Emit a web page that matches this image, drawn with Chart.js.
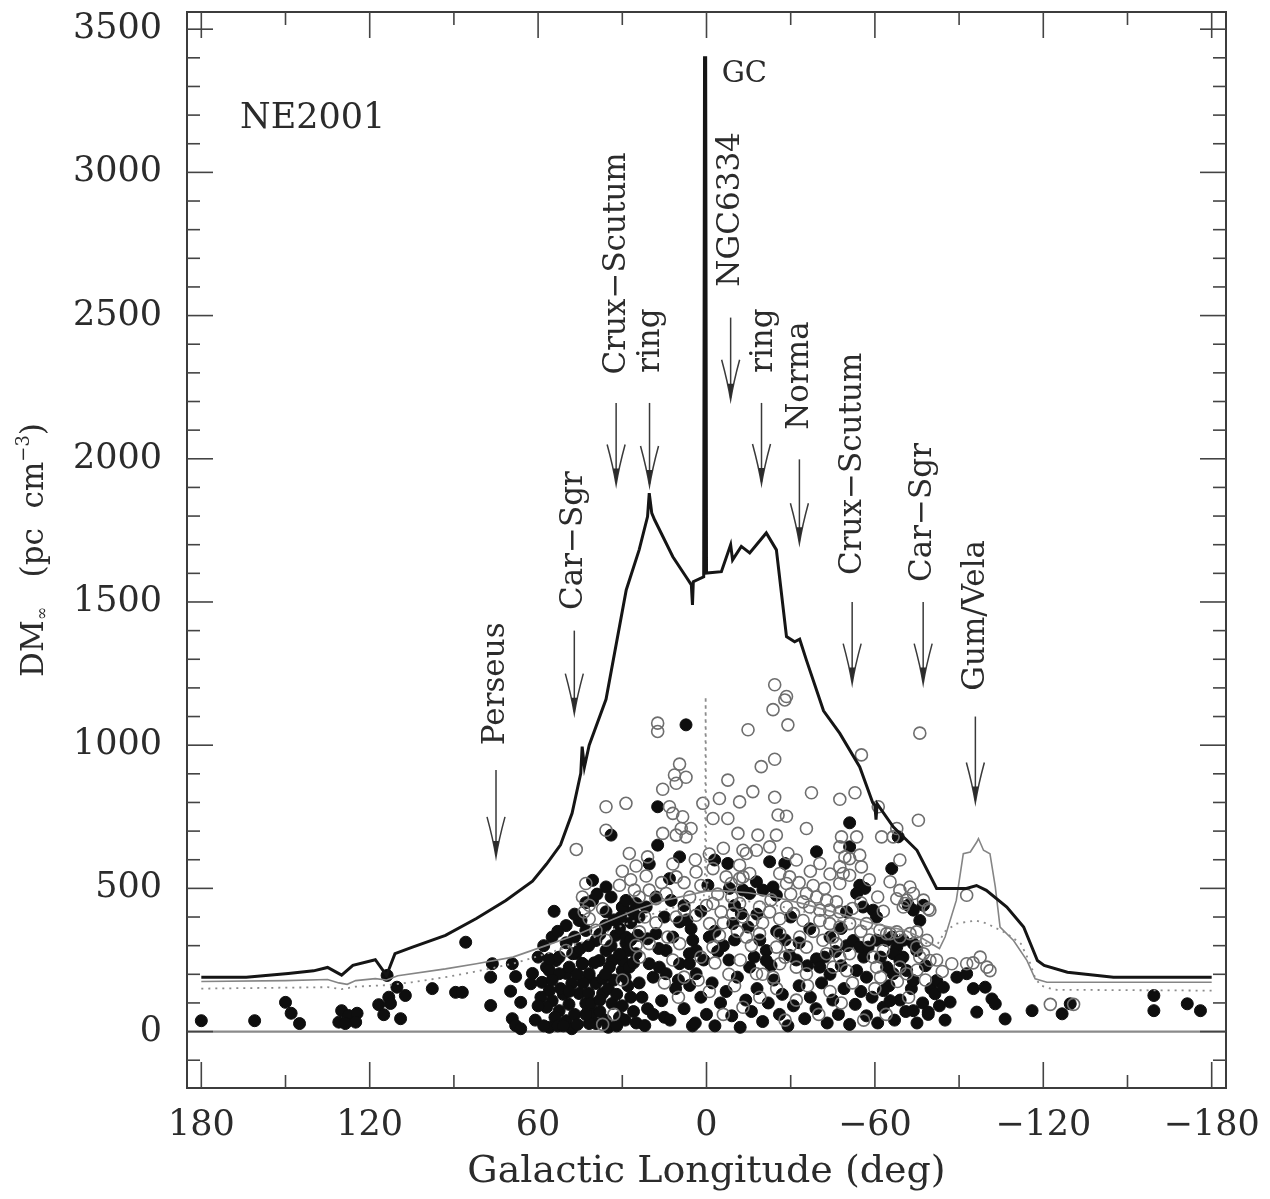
<!DOCTYPE html>
<html><head><meta charset="utf-8">
<script src="https://cdn.jsdelivr.net/npm/chart.js@4.4.1/dist/chart.umd.min.js"></script>
<style>html,body{margin:0;padding:0;background:#fff;}#wrap{width:1270px;height:1199px;}</style>
</head><body><div id="wrap"><canvas id="c" width="1270" height="1199"></canvas></div>
<script>
// ---------- DATA ----------
const xTickValues = [180, 120, 60, 0, -60, -120, -180];
const xTickLabels = ['180', '120', '60', '0', '\u221260', '\u2212120', '\u2212180'];
const yTickValues = [0, 500, 1000, 1500, 2000, 2500, 3000, 3500];
const yTickLabels = ['0', '500', '1000', '1500', '2000', '2500', '3000', '3500'];

// NE2001 DM_inf at b=0 (thick black line) [longitude, DM]
const neCurve = [[180,190],[164,190],[149,203],[140,212],[135,224],[130,197],[126,231],[118,251],[114,196],[111,272],[105,294],[93,336],[82,395],[71.5,458],[62,525],[57,585],[52,652],[47.9,762],[44.8,902],[44.3,995],[43.5,924],[41.8,1000],[35.8,1160],[28.6,1542],[24,1682],[21,1798],[20.4,1880],[19.5,1810],[18.5,1787],[12,1658],[7.3,1588],[5.4,1560],[5.0,1490],[4.7,1571],[1.0,1588],[0.7,3400],[0.3,3400],[0.0,1601],[-5.3,1606],[-8.6,1700],[-9.3,1647],[-12.4,1694],[-15.4,1671],[-21.3,1741],[-24.9,1682],[-28.5,1379],[-31.4,1361],[-33.2,1370],[-35.6,1297],[-41.7,1120],[-47.5,1041],[-54.6,924],[-59.2,800],[-60,790],[-60.4,740],[-60.8,795],[-66.6,714],[-75,633],[-82,500],[-85.5,500],[-92.6,500],[-96.2,510],[-99.7,493],[-107,435],[-113,365],[-117.9,248],[-120.3,231],[-128.6,207],[-145,190],[-180,190]];
// second model curve (thin grey line)
const greyCurve = [[180,175],[150,178],[135,182],[131,170],[128,165],[125,178],[118,185],[114,180],[110,195],[93,219],[82,237],[69,260],[57,301],[45.4,342],[35,385],[25,425],[15,458],[5,480],[0,490],[-5,492],[-15,485],[-25,468],[-35,445],[-45,418],[-59,378],[-71,353],[-77,325],[-83,290],[-85,330],[-89,458],[-91.5,621],[-94,627],[-96.3,662],[-96.9,674],[-98.7,633],[-101,621],[-102.9,505],[-104.6,365],[-109.4,318],[-114.2,248],[-117.1,184],[-121.3,172],[-180,172]];
// third model curve (dotted grey line)
const dottedCurve = [[180,150],[135,155],[130,148],[125,157],[114,162],[105,172],[93,190],[82,210],[69,237],[57,272],[45.4,307],[35,350],[25,390],[15,425],[5,450],[1,465],[0.5,560],[0.3,1170],[0.1,560],[-1,465],[-5,462],[-15,455],[-25,440],[-35,418],[-45,395],[-59,360],[-71,335],[-78,310],[-82,300],[-85,350],[-89,377],[-96,388],[-100,377],[-107,342],[-112,307],[-115.4,237],[-117,190],[-119,161],[-124,146],[-180,143]];

// pulsars with independent distances (filled)
const filledPulsars = [
[180,38],[161,38],[150,102],[148,64],[145,28],[130,73],[131,33],[127.5,56],[124.5,64],[125,33],[128.7,28],[113.8,196],[110.3,155],[107.3,126],[113.2,120],[116.8,94],[112.6,98],[115,59],[109,45],[97.7,150],[89.4,137],[87,137],[85.8,312],[76.3,237],[76.9,190],[76.9,91],[69.2,237],[68,192],[69.8,141],[62.6,167],[66.2,102],[69.2,45],[68,21],[66.2,10],[54.3,420],
[62,203],[58.6,172],[56,143],[55,108],[52.5,73],[50,38],[56,15],[48,10],[57,225],[53.7,248],[50,203],[48,168],[45.4,133],[43,98],[40.7,63],[39.4,28],[46.5,273],[44.3,238],[41.8,190],[39.4,168],[37,133],[33.6,98],[31,50],[41.8,28],[43,353],[39.4,318],[35.8,283],[33.6,248],[30,213],[28.7,308],[40.6,528],[35.8,505],[45.4,388],[30,435],
[44.7,388],[40.6,458],[35.8,418],[29.9,435],[28.7,458],[25.1,447],[21.5,435],[26.3,418],[30.5,400],[32.3,336],[28.7,330],[24.5,336],[21,324],[18,342],[28.1,283],[25.1,272],[14.4,283],[5.5,359],[4.9,319],[3.7,283],[12.6,458],[9.6,383],[6.1,272],[-9.4,377],[-7.6,587],[-2.9,599],[56,254],[52.5,260],[47.7,272],[44.2,237],[38.2,248],[34.6,225],[48.9,225],[56,213],[52.5,202],[41.8,202],[29.9,248],[27.5,225],[20.4,237],[16.8,225],[9.6,237],[6.1,237],[3.7,202],[14.4,202],[17.4,651],[20.4,585],[9.6,610],[13.2,534],
[59,120],[57,85],[54,50],[53,20],[51,130],[49,95],[47,60],[46,25],[44,170],[42,135],[41,100],[38,70],[36,40],[35,15],[37,185],[35,150],[33,180],[32,130],[30,90],[29,40],[28,160],[27,120],[26,70],[25,30],[58,300],[60,260],[55,330],[50,310],[47,330],[45,290],[42,300],[38,340],[36,370],[33,390],[31,360],[27,380],[24,400],[34,470],[39,480],[43,450],[47,410],[50,370],[53,350],
[61,40],[60,90],[58,20],[55,180],[52,150],[51,20],[49,140],[46,200],[43,60],[40,240],[38,110],[36,200],[34,300],[32,20],[31,270],[29,190],[27,320],[26,240],[24,170],[23,120],[21,80],[19,190],[17,290],[15,50],[12,330],[10,180],[7,390],[5,20],[1,250],[-1,330],[-4,280],[-8,250],[-10,320],[-17,260],[-19,320],[-23,230],[-28,320],[-32,250],[-36,230],[-42,260],[-44,200],[-48,230],[-50,300],[-56,260],[-62,260],[-66,330],[-70,260],[-78,230],[-80,150],[-83,90],[-85,40],
[22,21],[19,60],[16,108],[13,40],[11,150],[8,80],[6,161],[4,30],[2,120],[0,60],[-2,170],[-3,20],[-5,100],[-7,140],[-9,55],[-11,190],[-12,15],[-14,110],[-16,70],[-18,150],[-20,35],[-22,100],[-24,180],[-26,60],[-27,130],[-29,20],[-31,90],[-33,160],[-35,45],[-37,120],[-39,80],[-41,170],[-43,30],[-45,110],[-47,60],[-49,150],[-51,25],[-53,95],[-55,140],[-57,55],[-59,120],[-61,30],[-63,85],[-65,160],[-67,40],[-69,110],[-71,70],[-73,150],[-75,30],[-77,100],[-79,60],
[-39.2,628],[-51,645],[-22.5,593],[-27.9,587],[-17.8,523],[-20.1,494],[-23.7,505],[-24.9,476],[-54.6,511],[-56.4,500],[-53.5,482],[-55.8,435],[-59.4,424],[-60.6,400],[-49.9,418],[-66,569],[-77.3,441],[-76,388],[-73.7,424],[-71.9,441],[-13,494],[-15.4,482],[-12.4,412],[-14.8,365],[-36.8,359],[-52.3,318],[-54.6,295],[-57.6,295],[-60.6,319],[-67.8,295],[-70.1,319],[-73.7,307],[-74.9,283],[-21.3,283],[-21.3,248],[-15.4,225],[-29.6,266],[-39.2,254],[-40.4,225],[-53.5,213],[-64.2,225],[-66.5,202],[-57,190],
[7.3,1071],[17.4,785],[34,686],[-51,729],[-68.3,680],[-0.5,511],[-8.2,500],[-64.2,318],[-66.5,272],[-68.9,248],[-71.3,213],[-73.7,178],[-63,143],[-65.4,108],[-73.7,73],[-79,68],[-82,178],[-81.4,132],[-84.4,155],[-86.8,103],[-89.2,190],[-92.7,202],[-95.1,150],[-99.3,155],[-101.7,114],[-102.9,97],[-96.3,68],[-106.4,44],[-116,73],[-126.7,62],[-129.6,97],[-159.4,126],[-159.4,73],[-171.3,97],[-176,73],
[2,420],[8,440],[15,400],[18,470],[-3,350],[-6,300],[-10,440],[-18,410],[-25,350],[-30,400],[-33,310],[-44,330],[-46,280],[-48,360]
];
// pulsars without independent distances (open circles)
const openPulsars = [
[46.4,636],[35.8,785],[28.7,797],[17.4,1077],[17.4,1048],[-14.8,1054],[-24.3,1211],[-28.5,1170],[-27.9,1158],[-23.7,1124],[-29,1071],[-76,1042],[-55.2,966],[-19.5,925],[-24.3,951],[9.6,934],[11.4,896],[7.3,888],[10.8,867],[15.6,846],[-7.6,878],[1.3,797],[-4.6,814],[-11.8,802],[-16.5,838],[-24.3,818],[-37.4,834],[-47.5,811],[-52.9,834],[-75.5,738],[-61.2,785],[-25.5,756],[-28.5,752],[-35.6,709],[-24.9,686],[-18.3,686],[-11.2,692],[-2.3,744],[-7.6,744],[8.5,750],[9,709],[5.5,709],[10.8,686],[7.3,680],[15.6,692],[13.2,785],[12,762],[35.8,703],[-53.5,680],[-48.1,680],[-47.5,645],[-49.3,610],[-54.6,616],[-55.2,575],[-62.4,680],[-67.8,709],[-66.5,680],[-68.9,599],[-65.4,523],[-68.9,493],[-72.5,505],[-73.7,482],[-67.8,464],[-70.7,447],[-79,429],[-77.3,459],[-64.2,342],[-67.8,348],[-72.5,342],[-74.9,295],[-77.3,272],[-87.4,237],[-92.7,237],[-97.5,260],[-99.9,225],[-101,213],[-92.7,476],[-122.5,95],[-130.8,95],
[27.5,622],[25.1,578],[21,610],[21.5,543],[31,511],[43,517],[44.2,470],[41.8,441],[43.6,418],[37,429],[41.8,394],[39.4,354],[35.8,319],[23.9,348],[25.7,494],[20.4,494],[18,464],[14.4,482],[10.8,540],[3.7,557],[7.9,424],[3.7,406],[10.8,400],[13.8,330],[9.6,307],[25.1,301],[20.4,307],[23.9,260],[-2.3,447],[-5.2,418],[-1.1,377],[-4.6,336],[-2.3,295],[-11.8,447],[-9.4,412],[-13,400],[-8.8,517],[-13,540],[-2.3,569],[-13,633],[50,283],
[-29,622],[-40.4,587],[-32,599],[-51,604],[-47.5,575],[-51,546],[-47.5,517],[-48.7,552],[-71.3,459],[-70.1,435],[-79.6,424],[-14.2,622],[-17.8,633],[-22.5,645],[-11.8,581],[-15.4,552],[-11.8,534],[-26.1,552],[-29.6,540],[-28.5,517],[-35.6,482],[-39.2,470],[-42.8,458],[-46.3,453],[-34.4,453],[-36.8,435],[-40.4,424],[-43.9,424],[-47.5,418],[-28.5,435],[-31,412],[-26.1,394],[-22.5,418],[-18.9,435],[-16.5,388],[-34.4,388],[-40.4,388],[-43.9,377],[-47.5,365],[-51,377],[-57,377],[-61.8,354],[-65.4,342],[-68.9,330],[-74.9,348],[-78.5,319],[-26.1,342],[-33.2,330],[-41.5,319],[-46.3,307],[-18.9,342],[-14.2,330],[-24.9,295],[-35.6,295],[-42.8,272],[-47.5,260],[-51,272],[-59.4,260],[-63,283],[-76,260],[-79.6,248],[-26.1,237],[-32,225],[-45.1,225],[-49.9,213],[-60.6,225],[-68.9,225],[-71.3,202],[-17.8,202],[-23.7,190],[-35.6,202],
[15,170],[10,120],[3,180],[-1,140],[-6,60],[-10,160],[-13,85],[-19,120],[-25,150],[-28,40],[-32,110],[-36,160],[-40,60],[-44,140],[-48,100],[-52,170],[-56,40],[-60,150],[-64,60],[-68,175],[-72,120],[-78,180],[37,25],[30,180],[33,60],[-1,620],[4,600],[-6,640],
[30,560],[27,530],[24,470],[22,400],[18,380],[16,520],[12,585],[8,520],[6,470],[2,510],[0,440],[-4,480],[-7,540],[-9,470],[-6,380],[-11,350],[-16,300],[-20,380],[-23,460],[-30,480],[-33,520],[-37,560],[-38,510],[-42,500],[-44,550],[-55,450],[-58,530],[-61,470],[-63,420],[-58,320],[-55,350],[-52,430],[-45,330],[-38,350],[-30,300],[-28,260],[-20,200],[-12,250],[-8,200],[-3,240],[2,260],[8,190],[12,250],[-62,190],[-75,215],[-82,250],[-84,210],[-95,240]
];

// Annotations: label, longitude of text column, DM where text starts, arrow top DM, arrow tip DM
const armLabels = ['Perseus','Car\u2212Sgr','Crux\u2212Scutum','ring','NGC6334','ring','Norma','Crux\u2212Scutum','Car\u2212Sgr','Gum/Vela'];
const armTextLon = [75, 47.3, 31.8, 19.8, -8.8, -20.3, -33.4, -52.1, -77.1, -96.1];
const armTextDM  = [1000, 1472, 2294, 2300, 2601, 2300, 2101, 1594, 1570, 1190];
const armArrowLon = [75, 47.1, 32.2, 20.3, -8.6, -19.6, -33.1, -51.9, -77.2, -95.8];
const armArrowTop = [913, 1400, 2195, 2195, 2493, 2195, 1998, 1500, 1500, 1100];
const armArrowTip = [610, 1110, 1910, 1905, 2206, 1912, 1705, 1215, 1215, 800];

const toXY = a => a.map(p => ({x: p[0], y: p[1]}));
const SERIF = "'DejaVu Serif', 'Liberation Serif', serif";
const TXT = '#2b2b2b';

const frameTicks = {
  id: 'frameTicks',
  beforeDatasetsDraw(chart) {
    const {ctx, chartArea: a, scales: {y}} = chart;
    const y0 = y.getPixelForValue(0);
    ctx.save(); ctx.strokeStyle = '#8a8a8a'; ctx.lineWidth = 2.2;
    ctx.beginPath(); ctx.moveTo(a.left, y0); ctx.lineTo(a.right, y0); ctx.stroke(); ctx.restore();
  },
  afterDatasetsDraw(chart) {
    const {ctx, chartArea: a, scales: {x, y}} = chart;
    ctx.save();
    ctx.strokeStyle = '#3c3c3c'; ctx.lineWidth = 2;
    ctx.strokeRect(a.left, a.top, a.right - a.left, a.bottom - a.top);
    ctx.lineWidth = 1.6; ctx.strokeStyle = '#444';
    const seg = (x1, y1, x2, y2) => { ctx.beginPath(); ctx.moveTo(x1, y1); ctx.lineTo(x2, y2); ctx.stroke(); };
    for (let v = -180; v <= 180; v += 30) {
      const px = x.getPixelForValue(v), L = (v % 60 === 0) ? 26 : 13;
      seg(px, a.bottom, px, a.bottom - L); seg(px, a.top, px, a.top + L);
    }
    for (let v = -100; v <= 3500; v += 100) {
      const py = y.getPixelForValue(v), L = (v % 500 === 0) ? 26 : 13;
      seg(a.left, py, a.left + L, py); seg(a.right, py, a.right - L, py);
    }
    // annotations
    ctx.fillStyle = TXT; ctx.strokeStyle = '#3a3a3a';
    ctx.font = '31px ' + SERIF;
    armLabels.forEach((t, i) => {
      const tx = x.getPixelForValue(armTextLon[i]), ty = y.getPixelForValue(armTextDM[i]);
      ctx.save(); ctx.translate(tx, ty); ctx.rotate(-Math.PI / 2);
      ctx.textAlign = 'left'; ctx.textBaseline = 'middle'; ctx.fillText(t, 0, 0); ctx.restore();
      const ax = x.getPixelForValue(armArrowLon[i]);
      const top = y.getPixelForValue(armArrowTop[i]), tip = y.getPixelForValue(armArrowTip[i]);
      ctx.lineWidth = 1.5;
      seg(ax, top, ax, tip - 2);
      ctx.beginPath(); ctx.moveTo(ax - 9, tip - 40); ctx.quadraticCurveTo(ax - 3, tip - 18, ax, tip);
      ctx.quadraticCurveTo(ax + 3, tip - 18, ax + 9, tip - 40); ctx.stroke();
      ctx.beginPath(); ctx.moveTo(ax - 3, tip - 16); ctx.lineTo(ax, tip); ctx.lineTo(ax + 3, tip - 16); ctx.closePath(); ctx.fill();
    });
    ctx.font = '35px ' + SERIF; ctx.textAlign = 'left'; ctx.textBaseline = 'middle';
    ctx.fillText('NE2001', x.getPixelForValue(166.2), y.getPixelForValue(3185));
    ctx.font = '29px ' + SERIF;
    ctx.fillText('GC', x.getPixelForValue(-5.4), y.getPixelForValue(3343));
    // y axis title with sub/superscripts
    ctx.save(); ctx.translate(35, (a.top + a.bottom) / 2); ctx.rotate(-Math.PI / 2);
    const parts = [['DM', 31, 0], ['\u221E', 16, 8], ['   (pc  cm', 31, 0], ['\u22123', 18, -11], [')', 31, 0]];
    let w = 0; parts.forEach(p => { ctx.font = p[1] + 'px ' + SERIF; w += ctx.measureText(p[0]).width; });
    let cx = -w / 2; ctx.textBaseline = 'middle';
    parts.forEach(p => { ctx.font = p[1] + 'px ' + SERIF; ctx.fillText(p[0], cx, p[2]); cx += ctx.measureText(p[0]).width; });
    ctx.restore();
    ctx.restore();
  }
};

new Chart(document.getElementById('c'), {
  type: 'scatter',
  data: { datasets: [
    { data: toXY(neCurve), showLine: true, borderColor: '#151515', borderWidth: 3, pointRadius: 0, order: 1 },
    { data: toXY(greyCurve), showLine: true, borderColor: '#858585', borderWidth: 1.6, pointRadius: 0, order: 2 },
    { data: toXY(dottedCurve), showLine: true, borderColor: '#8c8c8c', borderWidth: 1.8, borderDash: [2, 5], pointRadius: 0, order: 3 },
    { data: toXY(openPulsars), showLine: false, pointRadius: 6, borderColor: '#6e6e6e', borderWidth: 1.6, backgroundColor: 'rgba(255,255,255,0)', order: 4 },
    { data: toXY(filledPulsars), showLine: false, pointRadius: 6, borderColor: '#0e0e0e', borderWidth: 1, backgroundColor: '#0e0e0e', order: 5 }
  ]},
  options: {
    responsive: false, animation: false, devicePixelRatio: 1,
    layout: { padding: { left: 0, right: 44, top: 12, bottom: 0 } },
    plugins: { legend: { display: false }, tooltip: { enabled: false } },
    scales: {
      x: { type: 'linear', position: 'bottom', min: -185.1, max: 185.1, reverse: true,
        grid: { display: false, drawTicks: false }, border: { display: false },
        afterBuildTicks: s => { s.ticks = xTickValues.map(v => ({ value: v })); },
        afterFit: s => { s.height = 111; s.paddingLeft = 0; s.paddingRight = 0; },
        ticks: { autoSkip: false, maxRotation: 0, padding: 17, color: TXT, font: { family: SERIF, size: 35 },
          callback: (v, i) => xTickLabels[i] },
        title: { display: true, text: 'Galactic Longitude (deg)', color: TXT, font: { family: SERIF, size: 38 }, padding: { top: 0, bottom: 4 } } },
      y: { type: 'linear', min: -197, max: 3560,
        grid: { display: false, drawTicks: false }, border: { display: false },
        afterBuildTicks: s => { s.ticks = yTickValues.map(v => ({ value: v })); },
        afterFit: s => { s.width = 187; s.paddingTop = 0; s.paddingBottom = 0; },
        ticks: { autoSkip: false, padding: 25, color: TXT, font: { family: SERIF, size: 35 },
          callback: (v, i) => yTickLabels[i] } }
    }
  },
  plugins: [frameTicks]
});
</script></body></html>
